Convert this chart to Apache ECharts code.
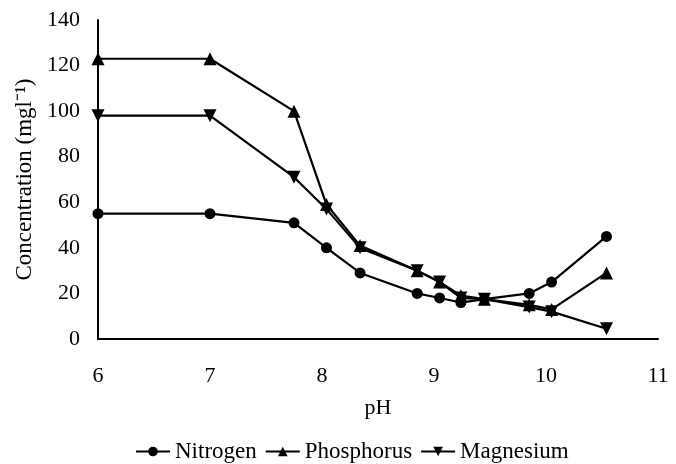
<!DOCTYPE html>
<html><head><meta charset="utf-8">
<script src="https://cdn.jsdelivr.net/npm/echarts@6/dist/echarts.min.js"></script>
<style>html,body{margin:0;padding:0;background:#fff}#c{width:676px;height:464px}</style>
</head><body><div id="c"></div>
<script>
const pH = [6, 7, 7.75, 8.04, 8.34, 8.85, 9.05, 9.24, 9.45, 9.85, 10.05, 10.54];
const nitrogen = [55, 55, 51, 40, 29, 20, 18, 16, 17.5, 20, 25, 45];
const phosphorus = [123, 123, 100, 59, 41, 30, 25, 19, 17.5, 15, 13, 29];
const magnesium = [98, 98, 71, 57, 40, 30, 25, 18, 17.5, 14, 12, 4.5];
const xTicks = [6, 7, 8, 9, 10, 11];
const yTicks = [0, 20, 40, 60, 80, 100, 120, 140];

const font = 'Liberation Serif';
function mk(name, data, symbol, rot) {
  return {
    name, type: 'line', data: pH.map((x, i) => [x, data[i]]),
    symbol, symbolSize: symbol === 'circle' ? 11 : 13, symbolRotate: rot || 0,
    lineStyle: { color: '#000', width: 2.2 }, itemStyle: { color: '#000' },
    showSymbol: true
  };
}
const chart = echarts.init(document.getElementById('c'));
chart.setOption({
  animation: false,
  textStyle: { fontFamily: font, color: '#000' },
  grid: { left: 98, right: 18, top: 20, bottom: 125 },
  xAxis: {
    type: 'value', min: xTicks[0], max: xTicks[xTicks.length - 1], interval: 1,
    name: 'pH', nameLocation: 'middle', nameGap: 58,
    nameTextStyle: { fontFamily: font, fontSize: 22, color: '#000' },
    axisLine: { lineStyle: { color: '#000', width: 2 } },
    axisTick: { show: false }, splitLine: { show: false },
    axisLabel: { fontFamily: font, fontSize: 22, color: '#000', margin: 26 }
  },
  yAxis: {
    type: 'value', min: yTicks[0], max: yTicks[yTicks.length - 1], interval: 20,
    name: 'Concentration (mgl⁻¹)', nameLocation: 'middle', nameGap: 60, nameRotate: 90,
    nameTextStyle: { fontFamily: font, fontSize: 23, color: '#000' },
    axisLine: { lineStyle: { color: '#000', width: 2 } },
    axisTick: { show: false }, splitLine: { show: false },
    axisLabel: { fontFamily: font, fontSize: 22, color: '#000', margin: 18 }
  },
  legend: {
    top: 435, left: 130, itemWidth: 34, itemHeight: 12, itemGap: 8,
    textStyle: { fontFamily: font, fontSize: 23, color: '#000' },
    data: ['Nitrogen', 'Phosphorus', 'Magnesium']
  },
  series: [
    mk('Nitrogen', nitrogen, 'circle'),
    mk('Phosphorus', phosphorus, 'triangle'),
    mk('Magnesium', magnesium, 'triangle', 180)
  ]
});
</script></body></html>
